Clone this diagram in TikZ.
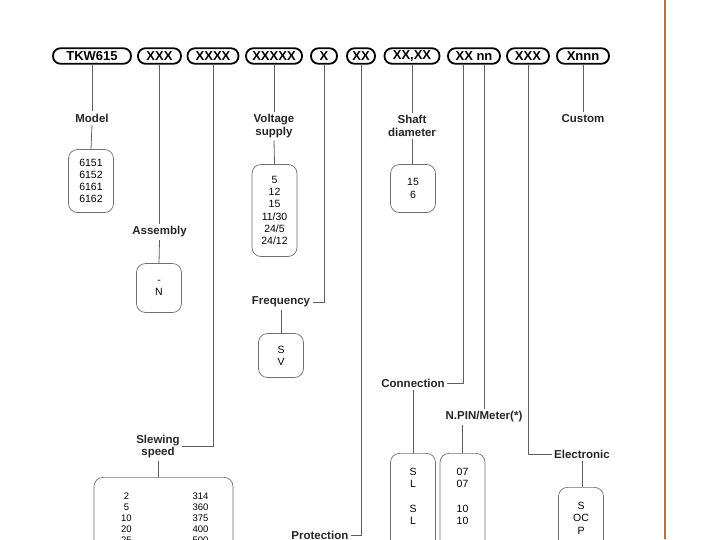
\documentclass[tikz,border=0pt]{standalone}
\usepackage{fontspec}
\setmainfont{Liberation Sans}
\usetikzlibrary{positioning}

\definecolor{linegray}{RGB}{95,95,95}
\definecolor{boxgray}{RGB}{110,110,110}
\definecolor{edgebrown}{RGB}{190,108,58}

\newcommand{\slewrow}[2]{\makebox[30pt]{#1}\hspace{44pt}\makebox[30pt]{#2}}

\tikzset{
  codebox/.style={draw=black, line width=1.8pt, rounded corners=7.5pt,
    minimum height=15.5pt, inner sep=0pt,
    font=\bfseries\fontsize{13}{14}\selectfont},
  field/.style={font=\bfseries\fontsize{11.5}{12.5}\selectfont,
    align=center, text=black!85, inner sep=2.5pt},
  valbox/.style={draw=boxgray, line width=0.7pt, rounded corners=9pt,
    minimum width=45pt, align=center, inner sep=2pt,
    font=\fontsize{10.5}{12.2}\selectfont},
  openbox/.style={valbox, anchor=north, text depth=120pt, inner ysep=15pt},
  link/.style={draw=linegray, line width=0.8pt},
}

\begin{document}
\begin{tikzpicture}[x=1pt,y=-1pt]
\useasboundingbox (0,0) rectangle (713,539);
\clip (0,0) rectangle (713,539);
% right page edge
\draw[edgebrown, line width=2pt] (665,0) -- (665,539);

% ordering code
\foreach \nm/\x/\w/\txt in {tkw/92/78/TKW615, asm/159.5/43/XXX, slew/213/51/XXXX,
    volt/274/56/XXXXX, freq/324/26/X, prot/361/28/XX, shaft/412/55/{XX,XX},
    conn/474/52/XX nn, elec/528/42/XXX, cust/583/52/Xnnn}
  \node[codebox, minimum width=\w pt] (c-\nm) at (\x,56) {\txt};

% field names
\node[field] (model) at (92,118) {Model};
\node[field] (assembly) at (159.5,232) {Assembly};
\node[field] (voltage) at (274,126) {Voltage\\supply};
\node[field] (shaft) at (412,126) {Shaft\\diameter};
\node[field] (custom) at (583,119) {Custom};
\node[field] (frequency) at (281,302) {Frequency};
\node[field] (connection) at (413,383) {Connection};
\node[field] (npin) at (484,417) {N.PIN/Meter(*)};
\node[field] (slewing) at (158,446.5) {Slewing\\speed};
\node[field] (electronic) at (582,454) {Electronic};
\node[field, anchor=east] (protection) at (351,535.5) {Protection};

% option boxes
\node[valbox, minimum height=63pt] (modelbox) at (91,181) {6151\\6152\\6161\\6162};
\node[valbox, minimum height=49pt] (assemblybox) at (159,288) {-\\N};
\node[valbox, minimum height=92pt] (voltbox) at (274.5,210.5) {5\\12\\15\\11/30\\24/5\\24/12};
\node[valbox, minimum height=48pt] (shaftbox) at (413,188.5) {15\\6};
\node[valbox, minimum height=44pt] (freqbox) at (281,355.5) {S\\V};
\node[openbox, minimum width=139pt, inner ysep=16pt,
  font=\fontsize{9.5}{10.8}\selectfont] (slewbox) at (163.5,477)
  {\slewrow{2}{314}\\\slewrow{5}{360}\\\slewrow{10}{375}\\\slewrow{20}{400}\\\slewrow{25}{500}};
\node[openbox] (connbox) at (413,453) {S\\L\\[12pt]S\\L};
\node[openbox] (npinbox) at (462.5,453) {07\\07\\[12pt]10\\10};
\node[openbox] (elecbox) at (581,487) {S\\OC\\P};

% connectors
\draw[link] (c-tkw.south) -- (model.north);
\draw[link] (model.south) -- (modelbox.north);
\draw[link] (c-asm.south) -- (assembly.north);
\draw[link] (assembly.south) -- (assemblybox.north);
\draw[link] (c-slew.south) |- (slewing.east);
\draw[link] (slewing.south) -- (slewing.south |- slewbox.north);
\draw[link] (c-volt.south) -- (voltage.north);
\draw[link] (voltage.south) -- (voltbox.north);
\draw[link] (c-freq.south) |- (frequency.east);
\draw[link] (frequency.south) -- (freqbox.north);
\draw[link] (c-prot.south) |- (protection.east);
\draw[link] (c-shaft.south) -- (shaft.north);
\draw[link] (shaft.south) -- (shaft.south |- shaftbox.north);
\draw[link] ([xshift=-11pt]c-conn.south) |- (connection.east);
\draw[link] (connection.south) -- (connbox.north);
\draw[link] ([xshift=10pt]c-conn.south) -- (npin.north);
\draw[link] (npinbox.north) -- (npinbox.north |- npin.south);
\draw[link] (c-elec.south) |- (electronic.west);
\draw[link] (electronic.south) -- (electronic.south |- elecbox.north);
\draw[link] (c-cust.south) -- (custom.north);
\end{tikzpicture}
\end{document}
